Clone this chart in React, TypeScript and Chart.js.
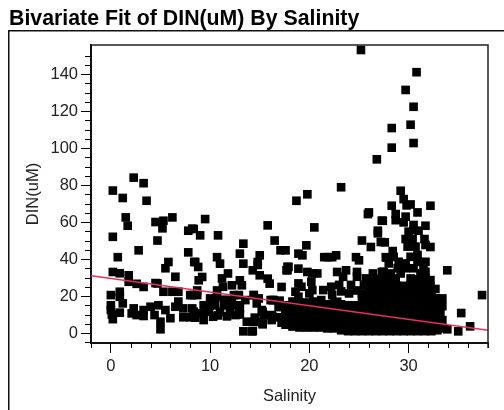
import React, { useEffect, useRef } from "react";
import { Chart, registerables } from "chart.js";

Chart.register(...registerables);

const titleText = "Bivariate Fit of DIN(uM) By Salinity";
const xTicks = [0, 10, 20, 30];
const yTicks = [0, 20, 40, 60, 80, 100, 120, 140];
const xMinorTicks = [-2, 2, 4, 6, 8, 12, 14, 16, 18, 22, 24, 26, 28, 32, 34, 36, 38];
const yMinorTicks = [-5, 5, 10, 15, 25, 30, 35, 45, 50, 55, 65, 70, 75, 85, 90, 95, 105, 110, 115, 125, 130, 135, 145, 150];

const fitSalinity = [-2, 38];
const fitDin = [31, 1.5];

// [salinity, DIN]
const outliers = [[25.2,153],[30.8,141],[29.7,131.4],[30.5,122.3],[30.2,112.6],[28.3,110.8],[30.5,102.7],[28.3,100.2],[26.8,93.9],[23.2,78.8],[19.8,75],[18.7,71.5],[29.2,76.9],[29.5,72.4],[30.2,69.5],[29.8,69],[28.3,68.8],[32.2,68.8],[35,0.9],[35.3,10.8],[36.2,3.6],[37.4,20.5],[33.9,33.9]];

const lowSalinity = [[2.3,84],[3.3,81],[0.2,77],[1.2,73],[3.6,71.5],[1.5,62.5],[1.7,58],[4.5,60],[5.3,60.7],[6.2,62.5],[5.2,56.6],[4.7,50],[0.2,52],[7.8,55.3],[8.2,56.4],[7.8,43.6],[2.8,44.7],[0.7,41],[5.8,38.4],[5.5,35],[8.4,38.4],[6.5,30.4],[0.2,33],[0.9,32.3],[1.8,31.2],[1.8,27.7],[2.6,26.6],[3.3,24.9],[4.7,26.8],[4.5,27],[5.3,22.3],[6.2,22.3],[6.8,22.3],[8,20.5],[0,20.5],[0.9,22.3],[0.9,19.6],[1.2,16],[0,15],[0,12.5],[0.1,10],[0.2,7.5],[0.9,11],[2.3,13.3],[2.1,10.6],[2.6,9.7],[3.3,12.4],[3.3,9.2],[4,14.2],[4.4,9.7],[4.8,15],[5.5,12.4],[6,8],[5,6.1],[5,2],[6.8,17],[6.5,14.2],[7.3,13.3],[8.2,13.3],[7.3,8.5],[8,8.5]];

const midSalinity = [[9.5,61.6],[8.35,56.2],[9,52.8],[10.8,52.8],[15.8,58.2],[16.5,50],[13.35,48.3],[13,42.9],[17.1,44.7],[17.6,44.7],[10.7,41],[11,37.5],[13.35,37.5],[15,42],[14.8,38.4],[14.8,36.8],[14.3,33.9],[8.5,38.4],[8.8,35.7],[17.7,33.9],[17.8,35.8],[11.8,32.2],[11.2,29.5],[15,31.2],[15.8,29.4],[16,26.7],[9.2,30.3],[8.85,28.5],[13,28.5],[13.2,25.8],[12.2,25.8],[11.3,25],[17.2,24.9],[10.7,23],[8.7,23],[8.2,20.5],[8.7,20.5],[10,18.7],[10.7,19.6],[12.4,20.5],[12.9,20.5],[13.55,17.8],[14.4,20.5],[14.9,18.7],[16.1,17.8],[16.4,17.8],[9.35,15],[10,15],[10.5,15],[11.4,15],[12,15],[12.7,15],[14.7,16],[15.2,12.4],[17.6,13.3],[8.35,11.5],[9,10.6],[9.7,11.5],[11,11.5],[12,11.5],[12.9,12.4],[17.6,10.6],[8.5,8.3],[9.35,7],[10.3,8.8],[12.55,9.7],[13.7,6.1],[14.6,6.1],[14.5,8.3],[15.3,4.7],[16.2,7],[16.2,9.7],[17.2,5.6],[17.9,4.7],[13.35,0.9],[14.2,0.9],[15.4,9.7],[16.3,17.8],[14.4,6],[14.3,1],[15.3,5.2],[16.3,8.8],[15.3,11.5],[14.4,20.5],[11.5,18],[12.2,17.5],[13,10],[9.9,12.5],[10.8,9.5],[11.7,9],[13,13.5],[16.9,14],[16.8,8.5],[17,17.5]];

const upperScatter = [[25.9,64.3],[26,65.2],[27.3,60.7],[20.5,57.1],[26.9,55.3],[26.9,53.9],[25.3,50],[27.2,49.2],[26.2,46.5],[19.7,47.4],[18.9,42.9],[19.3,42],[21.5,41],[21.9,41],[22.3,41],[22.7,42],[24.7,41],[25,39.3],[17.9,35.7],[18.9,34.8],[17.8,34],[19.8,33],[20.3,32.2],[20.8,32.2],[22.8,33],[23.7,33.9],[24.8,33],[24.8,30.4],[26.4,32.2],[27.3,33],[27.7,41],[20.2,27.7],[18.9,26.8],[19.2,25],[18.6,22.3],[18.9,19.6],[20.3,23.2],[20,21.4],[21.4,23.2],[22.2,25],[23,26],[23.4,30.4],[24.2,26],[25.7,29.5],[25.5,26],[21.2,17.8],[22.3,20.5],[22.8,16.9],[24,21.4],[25.3,21.4],[26.5,27.7],[26.3,23.2],[27.2,27.7],[27.2,22.3]];

const peakScatter = [[28.7,64.3],[29.7,62.9],[28.7,61],[29.5,59.8],[30.9,65.2],[27.4,60.7],[30.5,58.4],[31.7,58],[30,54.8],[30.5,55.7],[31,55.3],[29.7,50.8],[30.4,50.8],[31.6,50.8],[27.6,49],[29.9,46.7],[30.7,46.7],[32.2,46.5],[31.7,47.6],[28.4,44.3],[27.8,40.7],[28.5,41.2],[30.9,42.2],[30.2,41.2],[28,37.6],[29,38.5],[29.7,37.6],[31.7,38.5],[30.9,38.5],[31.5,35],[31.7,33.1],[30.5,35],[28.9,35],[29.7,35],[27.5,33.1],[28.2,32.2],[29.2,32.2],[31.2,32.2],[32.2,28.6],[31.7,29.5],[30.2,29.5],[28.7,29.5],[32.7,23.8],[32.2,25],[33.4,18.7],[32.7,18.7],[33.2,11.5],[33.4,7],[33.9,2],[33.1,2.5]];

const denseWest = [[17.6,4.5],[17.6,8],[17.6,11.5],[17.6,15],[18.3,3.5],[18.3,7],[18.3,10.5],[18.3,14],[18.3,17],[19,3],[19,6.5],[19,10],[19,13.5],[19,16.5],[19.7,3],[19.7,6.5],[19.7,10],[19.7,13],[19.7,16.5],[20.4,3],[20.4,6.5],[20.4,10],[20.4,13.5],[20.4,17],[21.1,3],[21.1,6.5],[21.1,10],[21.1,13.5],[21.1,16],[21.8,2.5],[21.8,6],[21.8,9.5],[21.8,13],[21.8,15.5],[22.5,2.5],[22.5,6],[22.5,9.5],[22.5,13],[22.5,16],[23.2,1.5],[23.2,5],[23.2,8.5],[23.2,12],[23.2,15.5],[23.2,22.5],[23.9,1],[23.9,4.5],[23.9,8],[23.9,11.5],[23.9,15],[24.6,1],[24.6,4.5],[24.6,8],[24.6,11.5],[24.6,15],[24.8,23],[25.3,1],[25.3,4.5],[25.3,8],[25.3,11.5],[25.3,15],[25.3,18.5]];

const denseEast = [[26,1],[26,4.5],[26,8],[26,11.5],[26,15],[26,18.5],[26,22],[26,25.5],[26.7,1],[26.7,4.5],[26.7,8],[26.7,11.5],[26.7,15],[26.7,18.5],[26.7,22],[26.7,25.5],[26.7,29],[27.4,1],[27.4,4.5],[27.4,8],[27.4,11.5],[27.4,15],[27.4,18.5],[27.4,22],[27.4,25.5],[27.4,29],[28.1,1],[28.1,4.5],[28.1,8],[28.1,11.5],[28.1,15],[28.1,18.5],[28.1,22],[28.1,25.5],[28.1,29],[28.8,1],[28.8,4.5],[28.8,8],[28.8,11.5],[28.8,15],[28.8,18.5],[28.8,22],[28.8,25.5],[29.5,1],[29.5,4.5],[29.5,8],[29.5,11.5],[29.5,15],[29.5,18.5],[29.5,22],[29.5,25.5],[30.2,1],[30.2,4.5],[30.2,8],[30.2,11.5],[30.2,15],[30.2,18.5],[30.2,22],[30.2,25.5],[30.9,1],[30.9,4.5],[30.9,8],[30.9,11.5],[30.9,15],[30.9,18.5],[30.9,22],[30.9,25.5],[30.9,29],[31.6,1],[31.6,4.5],[31.6,8],[31.6,11.5],[31.6,15],[31.6,18.5],[31.6,22],[31.6,25.5],[32.3,1],[32.3,4.5],[32.3,8],[32.3,11.5],[32.3,15],[32.3,18.5],[32.3,21.5],[32.9,1.5],[32.9,5],[32.9,8.5],[32.9,12],[32.9,15],[33.3,3],[33.4,14.5]];

const toXY = (rows: number[][]) => rows.map(([x, y]) => ({ x, y }));

const frame = {
  id: "frame",
  afterDraw(chart: any) {
    const { ctx, chartArea: a, scales } = chart;
    ctx.save();
    ctx.strokeStyle = "#000";
    ctx.lineWidth = 1;
    ctx.beginPath();
    for (const v of xMinorTicks) {
      const p = Math.round(scales.x.getPixelForValue(v)) + 0.5;
      ctx.moveTo(p, a.bottom);
      ctx.lineTo(p, a.bottom + 5);
    }
    for (const v of yMinorTicks) {
      const p = Math.round(scales.y.getPixelForValue(v)) + 0.5;
      ctx.moveTo(a.left - 6, p);
      ctx.lineTo(a.left, p);
    }
    ctx.stroke();
    ctx.lineWidth = 1.5;
    ctx.strokeStyle = "#222";
    ctx.beginPath();
    ctx.moveTo(a.left, a.top);
    ctx.lineTo(a.right, a.top);
    ctx.lineTo(a.right, a.bottom + 5);
    ctx.stroke();
    ctx.strokeStyle = "#111";
    ctx.beginPath();
    ctx.moveTo(8.75, 410);
    ctx.lineTo(8.75, 30.75);
    ctx.lineTo(504, 30.75);
    ctx.stroke();
    ctx.fillStyle = "#000";
    ctx.font = "bold 21.3px 'Liberation Sans', Arial, sans-serif";
    ctx.textBaseline = "alphabetic";
    ctx.textAlign = "left";
    ctx.fillText(titleText, 9, 25);
    ctx.restore();
  },
};

const font = { family: "'Liberation Sans', Arial, sans-serif", size: 16.5 };

export default function App() {
  const ref = useRef<HTMLCanvasElement>(null);
  useEffect(() => {
    const points = [outliers, lowSalinity, midSalinity, upperScatter, peakScatter, denseWest, denseEast].flat();
    const chart = new Chart(ref.current!, {
      type: "scatter",
      data: {
        datasets: [
          {
            label: "Fit",
            data: fitSalinity.map((x, i) => ({ x, y: fitDin[i] })),
            showLine: true,
            borderColor: "#e8305c",
            borderWidth: 1.6,
            pointRadius: 0,
            order: 0,
          },
          {
            label: "DIN(uM)",
            data: toXY(points),
            backgroundColor: "#000",
            borderWidth: 0,
            pointStyle: "rect",
            pointRadius: 6.1,
            order: 1,
          },
        ],
      } as any,
      plugins: [frame],
      options: {
        responsive: false,
        animation: false,
        layout: { padding: { top: 45, right: 16, bottom: 0, left: 0 } },
        plugins: { legend: { display: false }, tooltip: { enabled: false }, title: { display: false } },
        scales: {
          x: {
            type: "linear",
            min: -2,
            max: 38,
            afterBuildTicks: (s: any) => { s.ticks = xTicks.map((value) => ({ value })); },
            afterFit: (s: any) => { s.height = 67; },
            grid: { drawOnChartArea: false, tickLength: 10, tickColor: "#000", tickWidth: 1 },
            border: { color: "#111", width: 2 },
            ticks: { font, color: "#222", padding: 4, maxRotation: 0, minRotation: 0, autoSkip: false },
            title: { display: true, text: "Salinity", font, color: "#222", padding: { top: 4, bottom: 4 } },
          },
          y: {
            type: "linear",
            min: -5.4,
            max: 155.7,
            afterBuildTicks: (s: any) => { s.ticks = yTicks.map((value) => ({ value })); },
            afterFit: (s: any) => { s.width = 91; },
            grid: { drawOnChartArea: false, tickLength: 10, tickColor: "#000", tickWidth: 1 },
            border: { color: "#111", width: 2 },
            ticks: { font, color: "#222", padding: 3, autoSkip: false },
            title: { display: true, text: "DIN(uM)", font, color: "#222", padding: { top: 24, bottom: 0 } },
          },
        },
      } as any,
    });
    return () => chart.destroy();
  }, []);
  return (
    <canvas
      ref={ref}
      width={504}
      height={410}
      style={{ position: "absolute", left: 0, top: 0, width: 504, height: 410, display: "block" }}
    />
  );
}
